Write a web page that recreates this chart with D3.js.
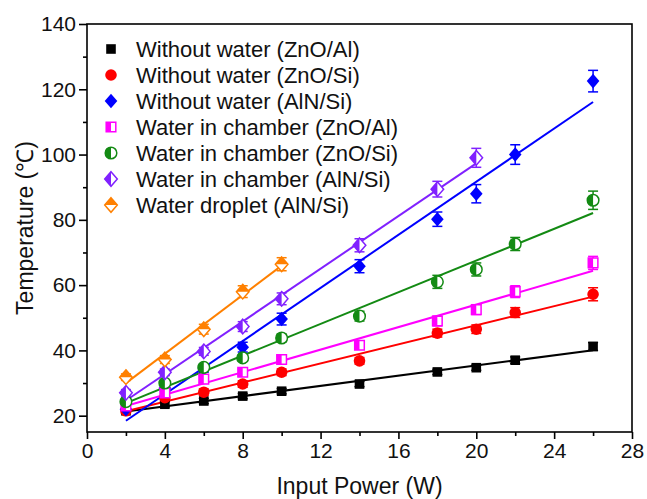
<!DOCTYPE html>
<html>
<head>
<meta charset="utf-8">
<script src="https://cdn.jsdelivr.net/npm/d3@7"></script>
<style>
  body { margin: 0; background: #fff; }
  svg { font-family: "Liberation Sans", Arial, sans-serif; }
</style>
</head>
<body>
<svg id="chart" width="647" height="499"></svg>
<script>
// data
const power = [2, 4, 6, 8, 10, 14, 18, 20, 22, 26];
const powerChamberAlN = [2, 4, 6, 8, 10, 14, 18, 20];
const powerDroplet = [2, 4, 6, 8, 10];

const noWaterZnOAl = [21.5, 23.5, 24.5, 26, 27.5, 29.7, 33.4, 34.7, 37, 41.2];
const noWaterZnOSi = [21.5, 25.5, 27.2, 29.7, 33.3, 36.8, 45.3, 46.5, 51.6, 57.2];
const noWaterAlNSi = [22, 28.5, 34.5, 41, 49.6, 65.8, 80.2, 88, 100, 122.5];
const chamberZnOAl = [23, 27, 31.2, 33.3, 37.2, 41.6, 49, 52.5, 58, 66.8];
const chamberZnOSi = [24.3, 30, 34.8, 37.7, 43.8, 50.5, 61, 64.8, 72.6, 86];
const chamberAlNSi = [27, 33.3, 39.7, 47.3, 55.8, 72.2, 89.4, 99];
const droplet = [31.8, 37.2, 46.5, 58, 66.4];

const errNoWaterZnOAl = [0.8, 0.8, 0.8, 0.8, 0.8, 0.8, 0.8, 0.8, 1, 1.2];
const errNoWaterZnOSi = [0.8, 1, 1, 1, 1, 1, 1.2, 1.3, 1.5, 2];
const errNoWaterAlNSi = [1, 1, 1.2, 1.5, 1.8, 2, 2.2, 2.8, 3, 3.3];
const errChamberZnOAl = [0.8, 1, 1, 1, 1, 1.2, 1.5, 1.5, 1.8, 2];
const errChamberZnOSi = [1, 1, 1, 1, 1.2, 1.5, 2, 2, 2, 2.8];
const errChamberAlNSi = [1, 1, 1.2, 1.5, 1.8, 2, 2.4, 2.9];
const errDroplet = [1, 1.2, 1.5, 1.8, 2];

const seriesNames = [
  "Without water (ZnO/Al)",
  "Without water (ZnO/Si)",
  "Without water (AlN/Si)",
  "Water in chamber (ZnO/Al)",
  "Water in chamber (ZnO/Si)",
  "Water in chamber (AlN/Si)",
  "Water droplet (AlN/Si)"
];

const xTicks = [0, 4, 8, 12, 16, 20, 24, 28];
const yTicks = [20, 40, 60, 80, 100, 120, 140];

const series = [
  { name: seriesNames[0], x: power, y: noWaterZnOAl, e: errNoWaterZnOAl, color: "#000000", shape: "square", half: null },
  { name: seriesNames[1], x: power, y: noWaterZnOSi, e: errNoWaterZnOSi, color: "#ff0000", shape: "circle", half: null },
  { name: seriesNames[2], x: power, y: noWaterAlNSi, e: errNoWaterAlNSi, color: "#0000ff", shape: "diamond", half: null },
  { name: seriesNames[3], x: power, y: chamberZnOAl, e: errChamberZnOAl, color: "#ff00ff", shape: "square", half: "left" },
  { name: seriesNames[4], x: power, y: chamberZnOSi, e: errChamberZnOSi, color: "#138a13", shape: "circle", half: "left" },
  { name: seriesNames[5], x: powerChamberAlN, y: chamberAlNSi, e: errChamberAlNSi, color: "#8021ff", shape: "diamond", half: "left" },
  { name: seriesNames[6], x: powerDroplet, y: droplet, e: errDroplet, color: "#ff8000", shape: "diamond", half: "top" }
];

const margin = { left: 87, right: 15, top: 24, bottom: 67 };
const width = 647, height = 499;

const svg = d3.select("#chart");

const x = d3.scaleLinear().domain([0, 28]).range([margin.left, width - margin.right]);
const y = d3.scaleLinear().domain([15, 140]).range([height - margin.bottom, margin.top]);

// marker paths (full outline and filled part)
function markerPaths(shape, half) {
  if (shape === "square") {
    const s = 4.8;
    const full = `M${-s},${-s}H${s}V${s}H${-s}Z`;
    const part = half === "left" ? `M${-s},${-s}H0V${s}H${-s}Z` : full;
    return { full, part };
  }
  if (shape === "circle") {
    const r = 5.8;
    const full = `M${-r},0A${r},${r} 0 1,1 ${r},0A${r},${r} 0 1,1 ${-r},0Z`;
    const part = half === "left" ? `M0,${-r}A${r},${r} 0 0,0 0,${r}Z` : full;
    return { full, part };
  }
  // diamond
  const w = 6.3, h = 7.3;
  const full = `M0,${-h}L${w},0L0,${h}L${-w},0Z`;
  let part = full;
  if (half === "left") part = `M0,${-h}L0,${h}L${-w},0Z`;
  if (half === "top") part = `M0,${-h}L${w},0L${-w},0Z`;
  return { full, part };
}

function drawMarker(g, s) {
  const p = markerPaths(s.shape, s.half);
  if (s.half) {
    g.append("path").attr("d", p.full).attr("fill", "#fff")
      .attr("stroke", s.color).attr("stroke-width", 1.5);
    g.append("path").attr("d", p.part).attr("fill", s.color);
  } else {
    g.append("path").attr("d", p.full).attr("fill", s.color);
  }
}

// linear fit
function fit(xs, ys) {
  const mx = d3.mean(xs), my = d3.mean(ys);
  let sxy = 0, sxx = 0;
  xs.forEach((v, i) => { sxy += (v - mx) * (ys[i] - my); sxx += (v - mx) * (v - mx); });
  const b = sxy / sxx;
  return { a: my - b * mx, b };
}

// axes
svg.append("g")
  .attr("transform", `translate(0,${y(15)})`)
  .call(d3.axisBottom(x).tickValues(xTicks).tickSize(7).tickSizeOuter(0).tickPadding(4));
svg.append("g")
  .attr("transform", `translate(0,${y(15)})`)
  .call(d3.axisBottom(x).tickValues(d3.range(2, 28, 4)).tickSize(4).tickFormat("").tickSizeOuter(0));

svg.append("g")
  .attr("transform", `translate(${x(0)},0)`)
  .call(d3.axisLeft(y).tickValues(yTicks).tickSize(8).tickSizeOuter(0).tickPadding(3));
svg.append("g")
  .attr("transform", `translate(${x(0)},0)`)
  .call(d3.axisLeft(y).tickValues(d3.range(30, 140, 20)).tickSize(4).tickFormat("").tickSizeOuter(0));

svg.selectAll(".domain").remove();
svg.selectAll(".tick line").attr("stroke", "#000").attr("stroke-width", 1.6);
svg.selectAll(".tick text").attr("font-size", 21).attr("fill", "#111")
  .attr("font-family", "Liberation Sans, Arial, sans-serif");

// frame
svg.append("rect")
  .attr("x", x(0)).attr("y", y(140))
  .attr("width", x(28) - x(0)).attr("height", y(15) - y(140))
  .attr("fill", "none").attr("stroke", "#000").attr("stroke-width", 1.6);

// titles
svg.append("text")
  .attr("x", (x(0) + x(28)) / 2).attr("y", 494)
  .attr("text-anchor", "middle").attr("font-size", 23).attr("fill", "#111")
  .text("Input Power (W)");
svg.append("text")
  .attr("transform", `translate(33,${(y(15) + y(140)) / 2}) rotate(-90)`)
  .attr("text-anchor", "middle").attr("font-size", 23).attr("fill", "#111")
  .text("Temperature (℃)");

// fit lines
const plot = svg.append("g");
series.forEach(s => {
  const f = fit(s.x, s.y);
  const x0 = d3.min(s.x), x1 = d3.max(s.x);
  plot.append("line")
    .attr("x1", x(x0)).attr("y1", y(f.a + f.b * x0))
    .attr("x2", x(x1)).attr("y2", y(f.a + f.b * x1))
    .attr("stroke", s.color).attr("stroke-width", 2);
});

// error bars
series.forEach(s => {
  const g = plot.append("g").attr("stroke", s.color).attr("stroke-width", 1.5);
  s.x.forEach((xv, i) => {
    const lo = y(s.y[i] - s.e[i]), hi = y(s.y[i] + s.e[i]);
    g.append("line").attr("x1", x(xv)).attr("x2", x(xv)).attr("y1", lo).attr("y2", hi);
    g.append("line").attr("x1", x(xv) - 5).attr("x2", x(xv) + 5).attr("y1", lo).attr("y2", lo);
    g.append("line").attr("x1", x(xv) - 5).attr("x2", x(xv) + 5).attr("y1", hi).attr("y2", hi);
  });
});

// markers
series.forEach(s => {
  s.x.forEach((xv, i) => {
    const g = plot.append("g").attr("transform", `translate(${x(xv)},${y(s.y[i])})`);
    drawMarker(g, s);
  });
});

// legend
const legend = svg.append("g");
series.forEach((s, i) => {
  const row = legend.append("g").attr("transform", `translate(111,${49 + i * 26})`);
  drawMarker(row, s);
  row.append("text")
    .attr("x", 25).attr("y", 8)
    .attr("font-size", 22).attr("fill", "#111")
    .text(s.name);
});
</script>
</body>
</html>
